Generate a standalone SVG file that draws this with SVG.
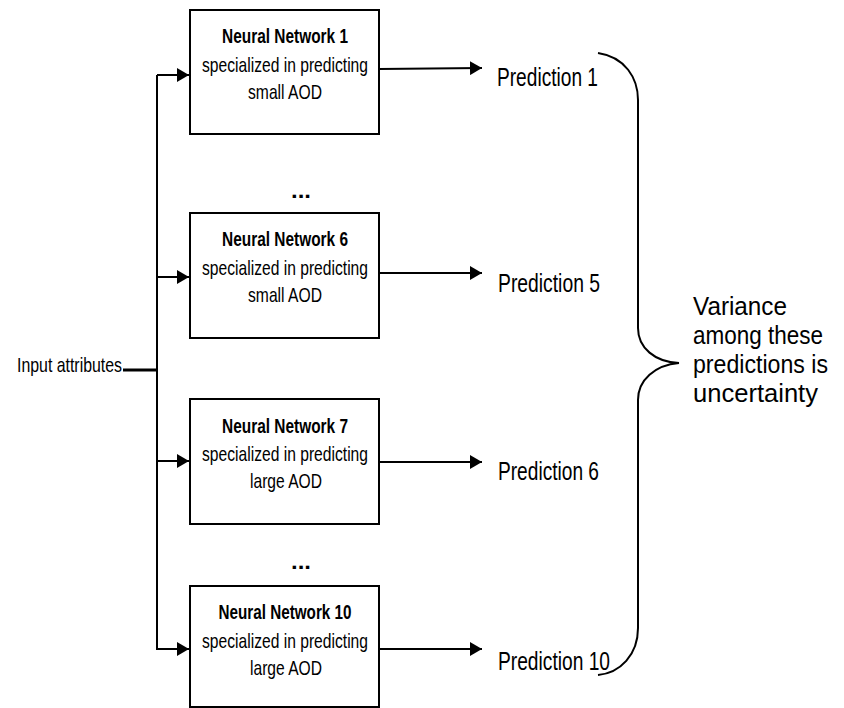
<svg xmlns="http://www.w3.org/2000/svg" width="844" height="708" viewBox="0 0 844 708">
<style>
text{font-family:"Liberation Sans",Arial,sans-serif;fill:#000}
.box{fill:#fff;stroke:#000;stroke-width:2}
.t1{font-size:21px;font-weight:bold}
.t2{font-size:21px}
.pred{font-size:26px}
.note{font-size:25px}
.ln{fill:none;stroke:#000;stroke-width:2}
.dots{font-size:22px;font-weight:bold}
</style>
<defs>
<marker id="ah" markerUnits="userSpaceOnUse" markerWidth="13" markerHeight="14" refX="12" refY="7" orient="auto">
<path d="M0,0 L12,7 L0,14 Z" fill="#000"/>
</marker>
</defs>
<rect width="844" height="708" fill="#fff"/>
<g id="connectors">
<path class="ln" d="M157,75 L157,649"/>
<path d="M123,370 L157,370" stroke="#000" stroke-width="3" fill="none"/>
<path class="ln" d="M157,75 L189,75" marker-end="url(#ah)"/>
<path class="ln" d="M157,277 L189,277" marker-end="url(#ah)"/>
<path class="ln" d="M157,461 L189,461" marker-end="url(#ah)"/>
<path class="ln" d="M156,649 L189,649" marker-end="url(#ah)"/>
<path class="ln" d="M379,69 L482,68" marker-end="url(#ah)"/>
<path class="ln" d="M379,273 L482,273" marker-end="url(#ah)"/>
<path class="ln" d="M379,462 L482,462" marker-end="url(#ah)"/>
<path class="ln" d="M379,649 L482,649" marker-end="url(#ah)"/>
</g>
<g id="input">
<text class="t2" x="17" y="372" textLength="105" lengthAdjust="spacingAndGlyphs">Input attributes</text>
</g>
<g id="nn1">
<rect class="box" x="190" y="10" width="189" height="124"/>
<text class="t1" x="285" y="43" text-anchor="middle" textLength="126" lengthAdjust="spacingAndGlyphs">Neural Network 1</text>
<text class="t2" x="285" y="72" text-anchor="middle" textLength="166" lengthAdjust="spacingAndGlyphs">specialized in predicting</text>
<text class="t2" x="285" y="99" text-anchor="middle" textLength="74" lengthAdjust="spacingAndGlyphs">small AOD</text>
</g>
<g id="dots1"><text class="dots" x="301" y="198" text-anchor="middle" textLength="20" lengthAdjust="spacingAndGlyphs">...</text></g>
<g id="nn6">
<rect class="box" x="190" y="213" width="189" height="125"/>
<text class="t1" x="285" y="246" text-anchor="middle" textLength="126" lengthAdjust="spacingAndGlyphs">Neural Network 6</text>
<text class="t2" x="285" y="275" text-anchor="middle" textLength="166" lengthAdjust="spacingAndGlyphs">specialized in predicting</text>
<text class="t2" x="285" y="302" text-anchor="middle" textLength="74" lengthAdjust="spacingAndGlyphs">small AOD</text>
</g>
<g id="nn7">
<rect class="box" x="190" y="399" width="189" height="125"/>
<text class="t1" x="285" y="433" text-anchor="middle" textLength="126" lengthAdjust="spacingAndGlyphs">Neural Network 7</text>
<text class="t2" x="285" y="461" text-anchor="middle" textLength="166" lengthAdjust="spacingAndGlyphs">specialized in predicting</text>
<text class="t2" x="286" y="488" text-anchor="middle" textLength="72" lengthAdjust="spacingAndGlyphs">large AOD</text>
</g>
<g id="dots2"><text class="dots" x="301" y="569" text-anchor="middle" textLength="20" lengthAdjust="spacingAndGlyphs">...</text></g>
<g id="nn10">
<rect class="box" x="190" y="586" width="189" height="121"/>
<text class="t1" x="285" y="619" text-anchor="middle" textLength="133" lengthAdjust="spacingAndGlyphs">Neural Network 10</text>
<text class="t2" x="285" y="648" text-anchor="middle" textLength="166" lengthAdjust="spacingAndGlyphs">specialized in predicting</text>
<text class="t2" x="286" y="675" text-anchor="middle" textLength="72" lengthAdjust="spacingAndGlyphs">large AOD</text>
</g>
<g id="predictions">
<text class="pred" x="497" y="86" textLength="101" lengthAdjust="spacingAndGlyphs">Prediction 1</text>
<text class="pred" x="498" y="292" textLength="102" lengthAdjust="spacingAndGlyphs">Prediction 5</text>
<text class="pred" x="498" y="480" textLength="101" lengthAdjust="spacingAndGlyphs">Prediction 6</text>
<text class="pred" x="498" y="670" textLength="112" lengthAdjust="spacingAndGlyphs">Prediction 10</text>
</g>
<g id="brace">
<path class="ln" d="M598,53 C625,57 638,78 638,100 L638,328 C638,348 655,362 679,363 C655,365 638,380 638,400 L638,628 C638,655 620,673 598,675"/>
</g>
<g id="note">
<text class="note" x="693" y="315" textLength="94" lengthAdjust="spacingAndGlyphs">Variance</text>
<text class="note" x="693" y="344" textLength="130" lengthAdjust="spacingAndGlyphs">among these</text>
<text class="note" x="693" y="373" textLength="135" lengthAdjust="spacingAndGlyphs">predictions is</text>
<text class="note" x="693" y="402" textLength="125" lengthAdjust="spacingAndGlyphs">uncertainty</text>
</g>
</svg>
